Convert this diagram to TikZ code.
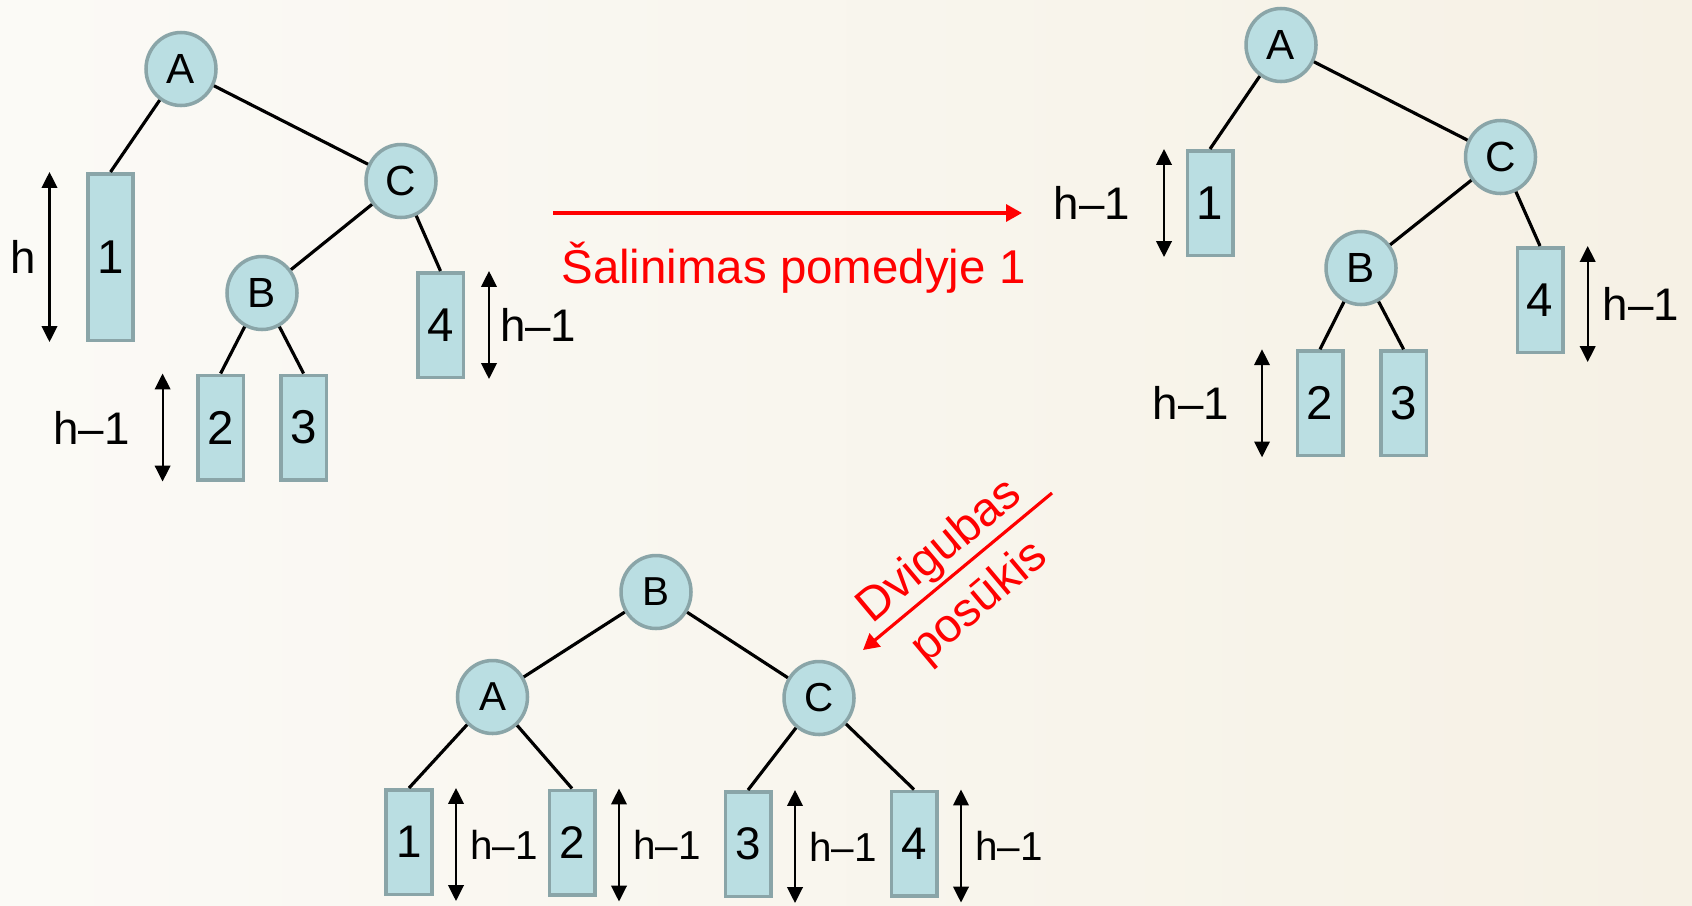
\documentclass[tikz,border=0pt]{standalone}
\usepackage{fontspec}
\setmainfont{Liberation Sans}
\usetikzlibrary{shapes.geometric,arrows.meta,positioning}

\definecolor{nodefill}{RGB}{186,222,226}
\definecolor{nodeline}{RGB}{138,165,168}
\definecolor{paperL}{RGB}{251,250,246}
\definecolor{paperR}{RGB}{246,241,229}

\begin{document}
\begin{tikzpicture}[
  knot/.style={ellipse, draw=nodeline, fill=nodefill, line width=1pt, inner sep=0pt,
    minimum width=0.70cm, minimum height=0.73cm, font=\fontsize{12}{14}\selectfont},
  subtree/.style={rectangle, draw=nodeline, fill=nodefill, line width=1pt, inner sep=0pt,
    minimum width=0.455cm, minimum height=1.045cm, font=\fontsize{13.5}{16}\selectfont},
  link/.style={line width=0.9pt},
  hgt/.style={line width=0.6pt, {Triangle[length=4.5pt,width=4.4pt]}-{Triangle[length=4.5pt,width=4.4pt]}},
  hlab/.style={font=\fontsize{13}{15}\selectfont, inner sep=0pt},
  redarr/.style={red, line width=0.9pt, -{Triangle[length=4.5pt,width=4.8pt]}},
  redlab/.style={red, font=\fontsize{13.5}{16}\selectfont, inner sep=0pt}
]
% Paper
\shade[left color=paperL, right color=paperR] (0,0) rectangle (16.92,9.05);
\useasboundingbox (0,0) rectangle (16.92,9.05);

% Tree before deletion
\node[knot] (lA) at (1.81,8.36) {A};
\node[knot] (lC) at (4.01,7.24) {C};
\node[knot] (lB) at (2.62,6.12) {B};
\node[subtree, minimum height=1.665cm] (l1) at (1.105,6.48) {1};
\node[subtree] (l4) at (4.405,5.80) {4};
\node[subtree] (l2) at (2.206,4.775) {2};
\node[subtree] (l3) at (3.036,4.775) {3};
\draw[link] (lA) -- (l1.north);
\draw[link] (lA) -- (lC);
\draw[link] (lC) -- (lB);
\draw[link] (lC) -- (l4.north);
\draw[link] (lB) -- (l2.north);
\draw[link] (lB) -- (l3.north);
\draw[hgt] ([xshift=-0.61cm]l1.north) -- ([xshift=-0.61cm]l1.south) node[midway, left=0.13cm, hlab] (lh1) {h};
\draw[hgt] ([xshift=0.485cm]l4.north) -- ([xshift=0.485cm]l4.south) node[midway, right=0.1cm, hlab] (lh4) {h–1};
\draw[hgt] ([xshift=-0.58cm]l2.north) -- ([xshift=-0.58cm]l2.south) node[midway, left=0.32cm, hlab] (lh2) {h–1};

% Deletion arrow
\coordinate (s1) at (5.53,6.92);
\coordinate (s2) at (10.22,6.92);
\draw[redarr] (s1) -- (s2);
\node[redlab, anchor=base] (del) at (7.935,6.22) {Šalinimas pomedyje 1};

% Tree after deletion
\node[knot] (rA) at (12.81,8.60) {A};
\node[knot] (rC) at (15.005,7.48) {C};
\node[knot] (rB) at (13.61,6.37) {B};
\node[subtree] (r1) at (12.10,7.02) {1};
\node[subtree] (r4) at (15.40,6.05) {4};
\node[subtree] (r2) at (13.20,5.017) {2};
\node[subtree] (r3) at (14.036,5.017) {3};
\draw[link] (rA) -- (r1.north);
\draw[link] (rA) -- (rC);
\draw[link] (rC) -- (rB);
\draw[link] (rC) -- (r4.north);
\draw[link] (rB) -- (r2.north);
\draw[link] (rB) -- (r3.north);
\draw[hgt] ([xshift=-0.46cm]r1.north) -- ([xshift=-0.46cm]r1.south) node[midway, left=0.33cm, hlab] (rh1) {h–1};
\draw[hgt] ([xshift=0.477cm]r4.north) -- ([xshift=0.477cm,yshift=-0.08cm]r4.south) node[midway, right=0.14cm, hlab] (rh4) {h–1};
\draw[hgt] ([xshift=-0.58cm]r2.north) -- ([xshift=-0.58cm]r2.south) node[midway, left=0.32cm, hlab] (rh2) {h–1};

% Rotation arrow
\coordinate (d1) at (10.52,4.12);
\coordinate (d2) at (8.63,2.55);
\draw[redarr] (d1) -- (d2);
\node[redlab, rotate=40] (rot1) at (9.40,3.53) {Dvigubas};
\node[redlab, rotate=40] (rot2) at (9.80,3.02) {posūkis};

% Balanced tree
\begin{scope}[knot/.append style={font=\fontsize{11.5}{13}\selectfont},
  subtree/.append style={font=\fontsize{13}{15}\selectfont},
  hlab/.append style={font=\fontsize{11.5}{14}\selectfont}]
\node[knot] (bB) at (6.56,3.13) {B};
\node[knot] (bA) at (4.925,2.08) {A};
\node[knot] (bC) at (8.19,2.07) {C};
\node[subtree] (b1) at (4.09,0.63) {1};
\node[subtree] (b2) at (5.72,0.625) {2};
\node[subtree] (b3) at (7.48,0.61) {3};
\node[subtree] (b4) at (9.14,0.615) {4};
\draw[link] (bB) -- (bA);
\draw[link] (bB) -- (bC);
\draw[link] (bA) -- (b1.north);
\draw[link] (bA) -- (b2.north);
\draw[link] (bC) -- (b3.north);
\draw[link] (bC) -- (b4.north);
\foreach \t in {1,2,3,4}
  \draw[hgt] ([xshift=0.47cm]b\t.north) -- ([xshift=0.47cm,yshift=-0.05cm]b\t.south)
    node[midway, right=0.13cm, hlab] (bh\t) {h–1};
\end{scope}
\end{tikzpicture}
\end{document}
